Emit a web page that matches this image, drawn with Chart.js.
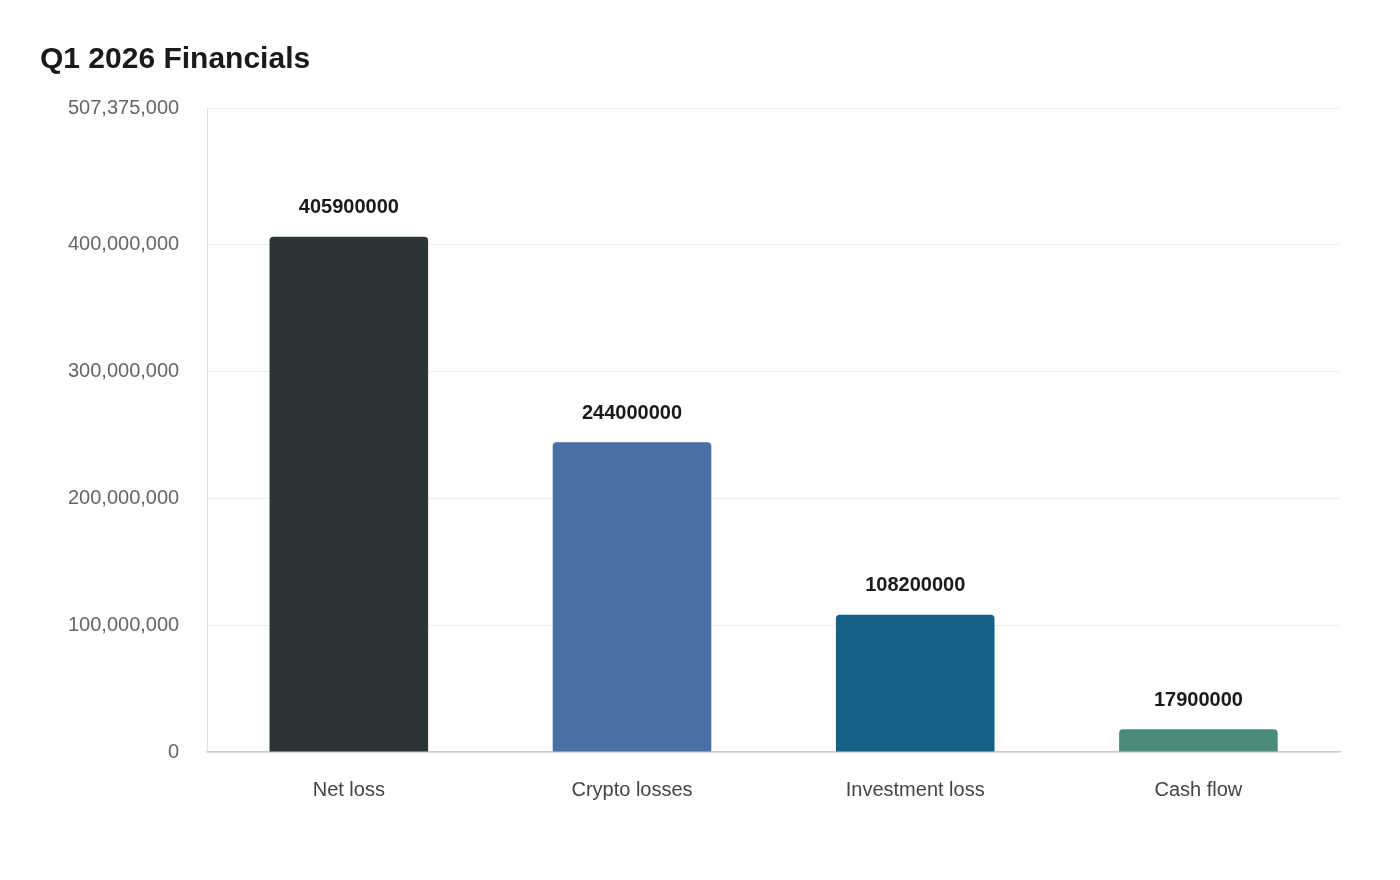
<!DOCTYPE html>
<html>
<head>
<meta charset="utf-8">
<script src="https://cdn.jsdelivr.net/npm/chart.js@4"></script>
<style>
  html, body { margin: 0; padding: 0; background: #fff; }
  #wrap { width: 1400px; height: 880px; position: relative; }
</style>
</head>
<body>
<div id="wrap"><canvas id="chart"></canvas></div>
<script>
const categories = ['Net loss', 'Crypto losses', 'Investment loss', 'Cash flow'];
const values = [405900000, 244000000, 108200000, 17900000];
const barColors = ['#2d3436', '#4a6fa5', '#166088', '#4a8b79'];
const yTicks = [0, 100000000, 200000000, 300000000, 400000000, 507375000];

const valueLabels = {
    id: 'valueLabels',
    afterDatasetsDraw(chart) {
        const ctx = chart.ctx;
        const meta = chart.getDatasetMeta(0);
        ctx.save();
        ctx.font = 'bold 20px "Liberation Sans", Arial, sans-serif';
        ctx.fillStyle = '#1a1a1a';
        ctx.textAlign = 'center';
        ctx.textBaseline = 'bottom';
        meta.data.forEach((bar, i) => {
            ctx.fillText(String(values[i]), bar.x, bar.y - 19);
        });
        ctx.restore();
    }
};

new Chart(document.getElementById('chart'), {
    type: 'bar',
    data: {
        labels: categories,
        datasets: [{
            data: values,
            backgroundColor: barColors,
            borderRadius: 4,
            borderSkipped: 'bottom',
            categoryPercentage: 0.56,
            barPercentage: 1
        }]
    },
    options: {
        responsive: true,
        maintainAspectRatio: false,
        animation: false,
        layout: { padding: { left: 40, right: 60, top: 20, bottom: 60 } },
        plugins: {
            legend: { display: false },
            tooltip: { enabled: false },
            title: {
                display: true,
                text: 'Q1 2026 Financials',
                align: 'start',
                color: '#1a1a1a',
                font: { family: '"Liberation Sans", Arial, sans-serif', size: 30, weight: 'bold' },
                padding: { top: 22, bottom: 30 }
            }
        },
        scales: {
            x: {
                grid: { display: false },
                border: { color: '#cccccc', width: 1.5 },
                ticks: {
                    color: '#444444',
                    padding: 18,
                    font: { family: '"Liberation Sans", Arial, sans-serif', size: 20 }
                }
            },
            y: {
                min: 0,
                max: 507375000,
                afterBuildTicks(axis) { axis.ticks = yTicks.map(v => ({ value: v })); },
                grid: { color: '#eeeeee', drawTicks: false },
                border: { color: '#e0e0e0' },
                ticks: {
                    color: '#666666',
                    padding: 28,
                    font: { family: '"Liberation Sans", Arial, sans-serif', size: 20 },
                    callback: v => v.toLocaleString('en-US')
                }
            }
        }
    },
    plugins: [valueLabels]
});
</script>
</body>
</html>
